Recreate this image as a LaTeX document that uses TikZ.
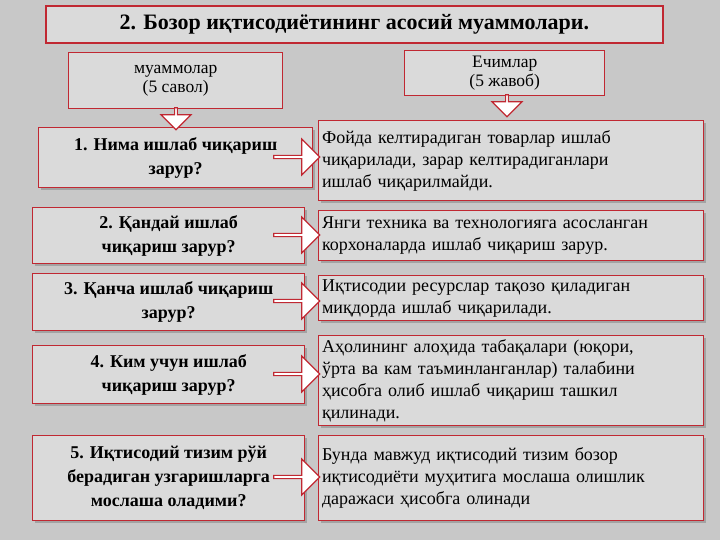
\documentclass[tikz,border=0pt]{standalone}
\usepackage{fontspec}
\setmainfont{Liberation Serif}
\usetikzlibrary{positioning,shapes.arrows,shadows}
\definecolor{frame}{RGB}{192,40,50}
\definecolor{boxgray}{RGB}{218,218,218}
\definecolor{bggray}{RGB}{200,200,200}

\begin{document}
\begin{tikzpicture}[x=1pt,y=-1pt]

        % Styles
        \tikzstyle{title} = [draw=frame, line width=1.6pt, fill=boxgray, anchor=north west, minimum width=617pt, minimum height=37pt, font=\fontsize{22}{24}\selectfont\bfseries]
        \tikzstyle{head} = [draw=frame, line width=1.4pt, fill=boxgray, anchor=north west, align=center, font=\fontsize{17.5}{19}\selectfont]
        \tikzstyle{question} = [draw=frame, line width=1.4pt, fill=boxgray, anchor=north west, align=center, drop shadow, font=\fontsize{18}{24}\selectfont\bfseries]
        \tikzstyle{answer} = [draw=frame, line width=1.4pt, fill=boxgray, anchor=north west, align=left, text width=378pt, drop shadow, font=\fontsize{18}{22}\selectfont]
        \tikzstyle{rarrow} = [single arrow, draw=frame, line width=1.2pt, fill=white, minimum height=46pt, minimum width=36pt, single arrow head extend=6pt, inner sep=0pt]
        \tikzstyle{darrow} = [rarrow, shape border rotate=270, minimum height=22pt, minimum width=30pt]

        \useasboundingbox (0,0) rectangle (720,540);
        \fill[bggray] (0,0) rectangle (720,540);

        % Nodes
        \node [title] (title) at (45,5) {2. Бозор иқтисодиётининг асосий муаммолари.};
        \node [head, minimum width=214pt, minimum height=56pt] (probs) at (68,52) {муаммолар\\(5 савол)};
        \node [head, minimum width=200pt, minimum height=45pt] (sols) at (404,50) {Ечимлар\\(5 жавоб)};

        \node [question, minimum width=274pt, minimum height=60pt] (q1) at (38,127) {1. Нима ишлаб чиқариш\\зарур?};
        \node [question, minimum width=272pt, minimum height=56pt] (q2) at (32,207) {2. Қандай ишлаб\\чиқариш зарур?};
        \node [question, minimum width=272pt, minimum height=57pt] (q3) at (32,273) {3. Қанча ишлаб чиқариш\\зарур?};
        \node [question, minimum width=272pt, minimum height=58pt] (q4) at (32,345) {4. Ким учун ишлаб\\чиқариш зарур?};
        \node [question, minimum width=272pt, minimum height=85pt] (q5) at (32,435) {5. Иқтисодий тизим рўй\\берадиган узгаришларга\\мослаша оладими?};

        \node [answer, minimum height=80pt] (a1) at (318,120) {Фойда келтирадиган товарлар ишлаб\\чиқарилади, зарар келтирадиганлари\\ишлаб чиқарилмайди.};
        \node [answer, minimum height=50pt] (a2) at (318,210) {Янги техника ва технологияга асосланган\\корхоналарда ишлаб чиқариш зарур.};
        \node [answer, minimum height=45pt] (a3) at (318,275) {Иқтисодии ресурслар тақозо қиладиган\\миқдорда ишлаб чиқарилади.};
        \node [answer, minimum height=90pt] (a4) at (318,335) {Аҳолининг алоҳида табақалари (юқори,\\ўрта ва кам таъминланганлар) талабини\\ҳисобга олиб ишлаб чиқариш ташкил\\қилинади.};
        \node [answer, minimum height=85pt] (a5) at (318,435) {Бунда мавжуд иқтисодий тизим бозор\\иқтисодиёти муҳитига мослаша олишлик\\даражаси ҳисобга олинади};

        % Arrows
        \node [darrow] (dp) at (176,118) {};
        \node [darrow] (ds) at (507,105) {};
        \foreach \i/\y in {1/157,2/235,3/301,4/374,5/477}
          \node [rarrow] (r\i) at (296,\y) {};

\end{tikzpicture}
\end{document}
